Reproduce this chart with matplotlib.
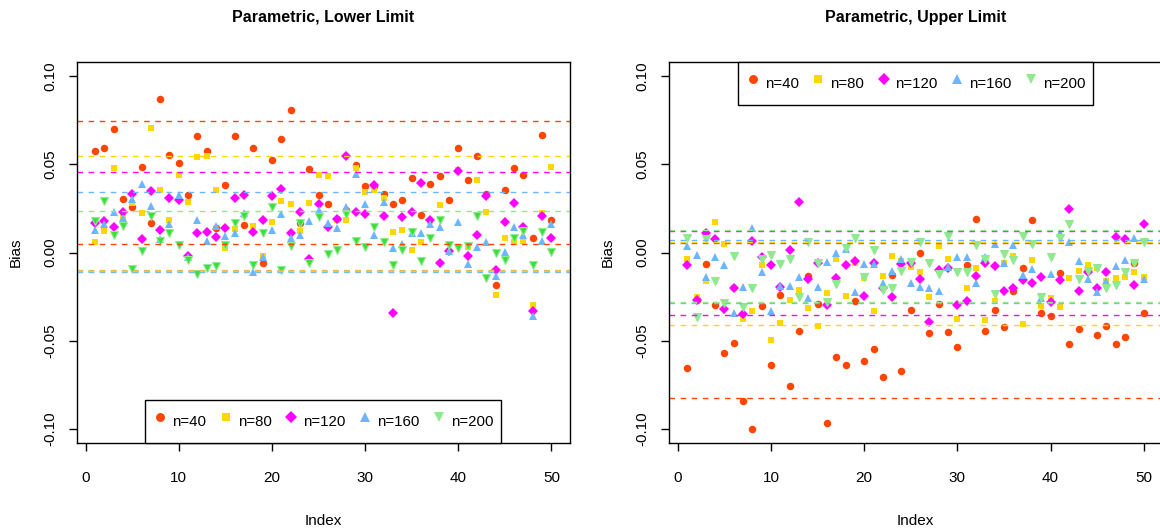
import numpy as np
import matplotlib
matplotlib.use("Agg")
import matplotlib.pyplot as plt
from matplotlib.lines import Line2D

plt.rcParams["font.family"] = ["Liberation Sans", "DejaVu Sans"]

# =========================
# data
# =========================
index = np.arange(1, 51)
labels = ["n=40", "n=80", "n=120", "n=160", "n=200"]

# lower limit panel
low_n40 = [0.0574, 0.0592, 0.0702, 0.0302, 0.026, 0.0485, 0.0166, 0.087, 0.0555, 0.0508,
           0.0328, 0.0658, 0.0575, 0.014, 0.0383, 0.0658, 0.0157, 0.0594, -0.0058, 0.0526,
           0.0645, 0.0808, 0.017, 0.0475, 0.0326, 0.0277, 0.019, 0.024, 0.0494, 0.0377,
           0.0375, 0.033, 0.0277, 0.030, 0.0425, 0.0211, 0.039, 0.0436, 0.030, 0.0594,
           0.0411, 0.0547, 0.0334, -0.0185, 0.0357, 0.0477, 0.044, 0.0085, 0.0664, 0.0183]
low_n80 = [0.0058, 0.0121, 0.048, 0.020, 0.028, 0.0223, 0.0708, 0.0357, 0.0183, 0.0438,
           0.0289, 0.054, 0.0545, 0.0357, 0.0023, 0.0132, 0.021, 0.0151, -0.0019, 0.0172,
           0.029, 0.0275, 0.0123, 0.028, 0.044, 0.0434, 0.0183, 0.0183, 0.0477, 0.0345,
           0.0355, 0.0311, 0.0117, 0.0128, 0.0013, 0.006, 0.018, 0.027, 0.001, 0.0466,
           0.003, 0.0411, 0.023, -0.0242, 0.0085, 0.006, 0.0066, -0.0298, 0.0223, 0.0483]
low_n120 = [0.0166, 0.0179, 0.0145, 0.023, 0.0334, 0.0075, 0.035, 0.0128, 0.0308, 0.030,
            -0.002, 0.0109, 0.0119, 0.009, 0.014, 0.031, 0.0326, 0.0117, 0.0183, 0.032,
            0.036, 0.0113, 0.023, -0.0034, 0.0274, 0.0147, 0.0189, 0.0549, 0.0232, 0.0217,
            0.0383, 0.0206, -0.0342, 0.020, 0.0228, 0.0396, 0.0183, -0.006, 0.0006, 0.0462,
            -0.002, 0.0098, 0.0323, -0.010, 0.0172, 0.0281, 0.0147, -0.0334, 0.0208, 0.0081]
low_n160 = [0.0128, 0.0162, 0.0232, 0.0198, 0.0302, 0.039, 0.0262, 0.0079, 0.0164, 0.0325,
            -0.0025, 0.0185, 0.0064, 0.0149, 0.0094, 0.011, 0.0226, -0.0113, -0.0025, 0.0126,
            0.0219, 0.0083, 0.0098, 0.0179, 0.024, 0.0168, 0.0138, 0.0258, 0.0443, 0.0277,
            0.0102, 0.0287, 0.0025, 0.0051, 0.011, 0.0111, 0.0164, 0.0147, 0.0006, 0.0175,
            -0.0066, 0.0034, 0.0057, -0.0134, 0.0004, 0.0147, 0.010, -0.0358, 0.0064, 0.016]
low_n200 = [0.0177, 0.0292, 0.0098, 0.0153, -0.0094, 0.0006, 0.0206, 0.0066, 0.0111, 0.0042,
            -0.004, -0.0119, -0.0085, -0.0079, 0.0042, 0.0166, 0.0206, -0.007, 0.0109, 0.026,
            -0.010, 0.0038, 0.017, -0.0058, 0.0202, -0.0009, 0.0013, 0.0217, 0.0066, 0.0032,
            0.0147, 0.006, -0.0072, 0.0015, 0.0117, -0.0047, 0.0081, 0.0183, 0.0043, 0.0023,
            0.0036, 0.0208, -0.0145, 0.0, -0.0043, 0.0083, 0.0123, -0.007, 0.0119, 0.0004]

# upper limit panel
up_n40 = [-0.0655, -0.027, -0.0066, -0.030, -0.0568, -0.0511, -0.084, -0.1002, -0.0302, -0.064,
          -0.024, -0.0755, -0.0443, -0.0132, -0.0292, -0.0968, -0.0591, -0.0636, -0.0277, -0.0617,
          -0.0545, -0.0704, -0.0128, -0.067, -0.0326, 0.0, -0.0458, -0.0292, -0.0453, -0.0534,
          -0.007, 0.0191, -0.0443, -0.0326, -0.0425, -0.0217, -0.0089, 0.0187, -0.0345, -0.036,
          -0.0115, -0.0518, -0.0436, -0.010, -0.047, -0.0419, -0.0516, -0.0481, -0.0062, -0.0343]
up_n80 = [-0.0038, -0.0255, -0.0164, 0.0175, 0.0047, -0.0204, -0.0377, -0.0334, -0.007, -0.0494,
          -0.0402, -0.027, -0.0213, -0.0317, -0.0415, -0.0232, -0.0038, -0.0245, -0.0057, -0.0145,
          -0.0334, -0.0134, -0.0019, -0.0047, -0.008, -0.0109, -0.0251, 0.0038, -0.0038, -0.0377,
          -0.0202, -0.0085, -0.0383, -0.0274, -0.0057, -0.0019, -0.0406, -0.0042, -0.0304, -0.0257,
          -0.0311, -0.0145, -0.0104, -0.007, -0.0085, -0.0164, -0.0145, -0.0138, -0.0113, -0.0138]
up_n120 = [-0.007, -0.0268, 0.0113, 0.0079, -0.0321, -0.020, -0.0349, 0.0066, -0.0023, -0.007,
           -0.0194, 0.0013, 0.0287, -0.0151, -0.0057, -0.0296, -0.0142, -0.007, -0.0047, -0.0249,
           -0.0062, -0.020, -0.0251, -0.0066, -0.0062, -0.0151, -0.0392, -0.0098, -0.0089, -0.0298,
           -0.0274, -0.0132, -0.0062, -0.0077, -0.0217, -0.0202, -0.0157, -0.0175, -0.0138, -0.0279,
           -0.0157, 0.0249, -0.0217, -0.0109, -0.0202, -0.0113, 0.0089, 0.0075, -0.0183, 0.016]
up_n160 = [0.0038, -0.0015, -0.0138, -0.0028, -0.007, -0.0345, -0.0194, 0.0138, -0.0113, -0.0334,
           -0.0189, -0.0192, -0.0136, -0.026, -0.0198, -0.0051, 0.0, 0.0022, -0.0226, -0.0066,
           -0.0066, -0.017, -0.0104, -0.0038, -0.017, -0.0194, -0.0204, -0.0221, -0.0081, -0.0028,
           -0.0025, -0.017, -0.0028, 0.0051, -0.0062, 0.0043, -0.0126, -0.0094, -0.0258, -0.0119,
           0.0113, 0.0057, -0.0047, -0.0149, -0.0226, -0.0164, -0.0075, -0.0043, 0.0085, -0.0151]
up_n200 = [0.0085, -0.0368, 0.0075, -0.0164, -0.0285, -0.0019, -0.0311, -0.0202, -0.0034, -0.0013,
           -0.0066, -0.0038, -0.0251, 0.0062, -0.0057, -0.0279, -0.0179, 0.0025, 0.0085, -0.0138,
           0.0013, -0.0213, -0.0204, -0.0104, -0.0051, 0.0057, -0.0062, -0.0119, 0.0092, -0.0113,
           -0.0108, 0.0043, -0.0038, -0.0236, -0.0006, -0.0043, 0.0092, 0.0051, -0.0251, -0.0028,
           0.0085, 0.016, -0.0151, -0.0104, -0.0085, -0.0202, -0.0185, -0.0113, -0.0057, 0.0062]

# dashed reference lines (two per sample size)
low_hlines = [[0.0743, 0.0051], [0.0549, -0.0100], [0.0455, -0.0104], [0.0342, -0.0108], [0.0238, -0.0102]]
up_hlines = [[0.0055, -0.0825], [0.0058, -0.0413], [0.0122, -0.0355], [0.0072, -0.0287], [0.0128, -0.0279]]

# =========================
# style
# =========================
colors = ["#FF4500", "#FFD700", "#FF00FF", "#6CB6FF", "#8FEA8F"]
markers = ["o", "s", "D", "^", "v"]
msizes = [5.4, 5.0, 5.0, 6.2, 6.2]

fig = plt.figure(figsize=(11.6, 5.31), dpi=100)


def panel(rect, series, hlines, title, legend_loc, green_fill):
    ax = fig.add_axes(rect)
    for k, (vals, c, m, ms) in enumerate(zip(series, colors, markers, msizes)):
        if k == 4:
            ax.plot(index, vals, linestyle="none", marker=m, markerfacecolor=green_fill,
                    markeredgecolor=c, markeredgewidth=0.8, markersize=ms - 0.6)
        else:
            ax.plot(index, vals, linestyle="none", marker=m, color=c, markersize=ms,
                    markeredgewidth=0)
    for pair, c in zip(hlines, colors):
        for h in pair:
            ax.axhline(h, color=c, lw=1.0, linestyle=(0, (4, 4)))
    ax.set_xlim(-0.96, 51.96)
    ax.set_ylim(-0.108, 0.108)
    ax.set_xticks([0, 10, 20, 30, 40, 50])
    ax.set_yticks([-0.10, -0.05, 0.0, 0.05, 0.10])
    ax.set_yticklabels(["-0.10", "-0.05", "0.00", "0.05", "0.10"], rotation=90, va="center")
    ax.tick_params(direction="out", length=6, width=1, labelsize=11, pad=14)
    ax.tick_params(axis="y", pad=8)
    for s in ax.spines.values():
        s.set_linewidth(1.0)
    ax.set_title(title, fontsize=11.5, fontweight="bold", pad=29)
    ax.set_xlabel("Index", fontsize=11, labelpad=21)
    ax.set_ylabel("Bias", fontsize=11, labelpad=15)
    handles = [Line2D([], [], linestyle="none", marker=m, color=c, markersize=ms + 1,
                      markeredgewidth=0)
               for c, m, ms in zip(colors, markers, msizes)]
    leg = ax.legend(handles, labels, loc=legend_loc, ncol=5, fontsize=10.8,
                    frameon=True, fancybox=False, edgecolor="black", framealpha=1,
                    borderaxespad=0, handletextpad=0.3, columnspacing=0.8,
                    handlelength=1.0, handleheight=2.5, borderpad=0.5)
    leg.get_frame().set_linewidth(1.0)
    return ax


panel([0.0661, 0.1657, 0.425, 0.7175],
      [low_n40, low_n80, low_n120, low_n160, low_n200],
      low_hlines, "Parametric, Lower Limit", "lower center", "#3ADF3A")
panel([0.5767, 0.1657, 0.425, 0.7175],
      [up_n40, up_n80, up_n120, up_n160, up_n200],
      up_hlines, "Parametric, Upper Limit", "upper center", "#8FEA8F")

plt.savefig("out.png", dpi=100)
